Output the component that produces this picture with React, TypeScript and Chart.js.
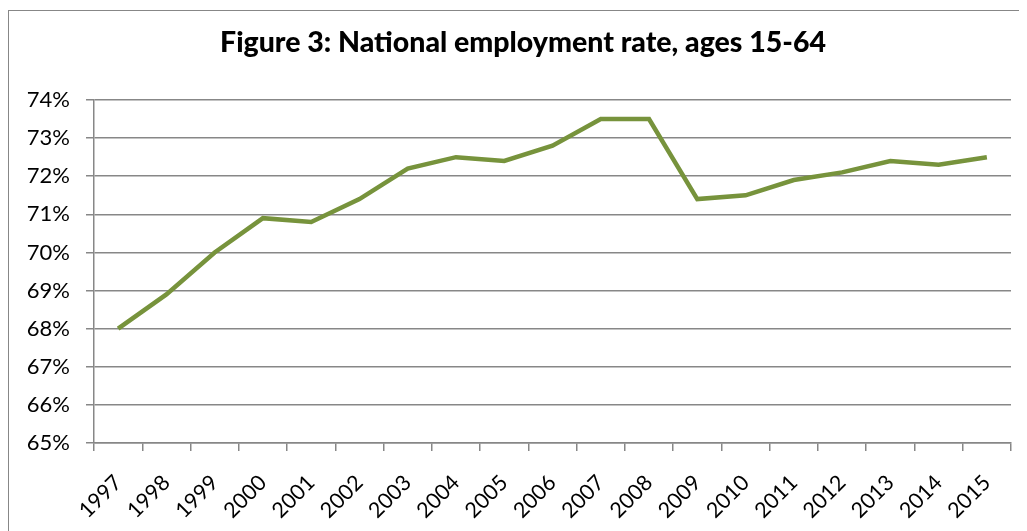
import React, { useEffect, useRef } from "react";
import { Chart, registerables } from "chart.js";

Chart.register(...registerables);

const years = ["1997","1998","1999","2000","2001","2002","2003","2004","2005","2006","2007","2008","2009","2010","2011","2012","2013","2014","2015"];
const employmentRate = [68.0,68.9,70.0,70.9,70.8,71.4,72.2,72.5,72.4,72.8,73.5,73.5,71.4,71.5,71.9,72.1,72.4,72.3,72.5];
const yMin = 65;
const yMax = 74;
const titleText = "Figure 3: National employment rate, ages 15-64";

const titlePlugin = {
  id: "excelTitle",
  afterDraw(chart: any) {
    const ctx = chart.ctx;
    ctx.save();
    ctx.font = "900 28.5px Lato";
    ctx.fillStyle = "#000";
    ctx.textAlign = "center";
    ctx.textBaseline = "alphabetic";
    ctx.fillText(titleText, 514, 41);
    ctx.restore();
  },
};

export default function App() {
  const ref = useRef<HTMLCanvasElement>(null);
  useEffect(() => {
    if (!ref.current) return;
    const chart = new Chart(ref.current, {
      type: "line",
      data: {
        labels: years,
        datasets: [{
          data: employmentRate,
          borderColor: "#77933C",
          borderWidth: 4.5,
          pointRadius: 0,
          tension: 0,
          fill: false,
        }],
      },
      plugins: [titlePlugin],
      options: {
        responsive: false,
        animation: false,
        layout: { padding: { left: 0, right: 16, top: 89, bottom: 0 } },
        plugins: {
          legend: { display: false },
          tooltip: { enabled: false },
          title: { display: false },
        },
        scales: {
          x: {
            offset: true,
            grid: { display: true, drawOnChartArea: false, drawTicks: true, tickLength: 8, offset: true, color: "#878787", lineWidth: 1.5 },
            border: { display: true, color: "#878787", width: 1.5 },
            ticks: { color: "#000", font: { family: "Lato", size: 21.5 }, maxRotation: 45, minRotation: 45, padding: 19, labelOffset: 0, autoSkip: false },
            afterFit: (s: any) => { s.height = 89; },
          },
          y: {
            min: yMin,
            max: yMax,
            grid: { color: "#878787", lineWidth: 1.5, tickLength: 8 },
            border: { display: true, color: "#878787", width: 1.5 },
            ticks: { stepSize: 1, color: "#000", font: { family: "Lato", size: 22 }, padding: 16, callback: (v: any) => v + "%" },
            afterFit: (s: any) => { s.width = 85; },
          },
        },
      },
    });
    return () => chart.destroy();
  }, []);
  return (
    <div style={{ marginTop: 2, width: 1019, height: 523, borderTop: "1.5px solid #878787", borderLeft: "1.5px solid #878787", boxSizing: "border-box", overflow: "hidden" }}>
      <canvas ref={ref} width={1018} height={521} style={{ display: "block" }} />
    </div>
  );
}
